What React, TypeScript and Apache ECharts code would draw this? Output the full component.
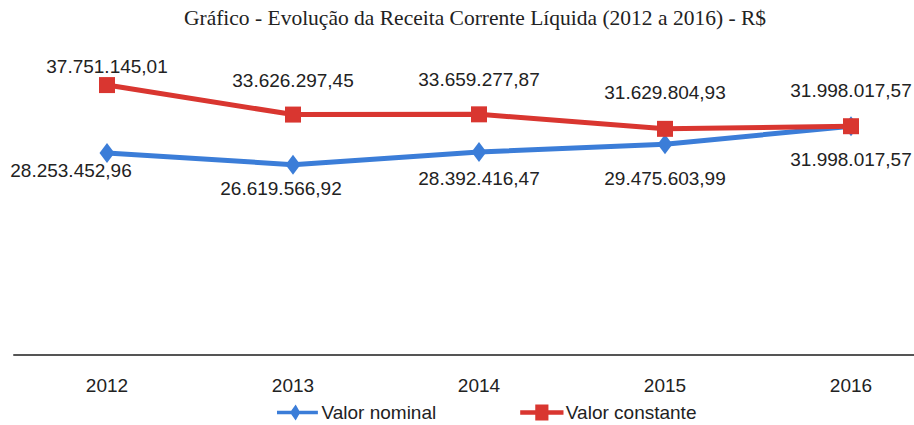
import React, { useEffect, useRef } from "react";
import * as echarts from "echarts";

const categories = ["2012", "2013", "2014", "2015", "2016"];
const nominal = [28253452.96, 26619566.92, 28392416.47, 29475603.99, 31998017.57];
const constante = [37751145.01, 33626297.45, 33659277.87, 31629804.93, 31998017.57];
const title = "Gráfico - Evolução da Receita Corrente Líquida (2012 a 2016) - R$";

const fmt = (v: number) => {
  const [i, d] = v.toFixed(2).split(".");
  return i.replace(/\B(?=(\d{3})+(?!\d))/g, ".") + "," + d;
};

const blueOffsets = [[-36, -6], [-12, 0], [0, 3], [0, 11], [0, 10]];
const redOffsets = [[0, 16], [0, 0], [0, 0], [0, -2], [0, -1]];

export default function App() {
  const ref = useRef<HTMLDivElement>(null);
  useEffect(() => {
    const chart = echarts.init(ref.current!, null, { renderer: "svg" });
    const font = "Liberation Sans";
    chart.setOption({
      animation: false,
      backgroundColor: "#ffffff",
      title: {
        text: title,
        left: 470,
        textAlign: "center",
        top: 2,
        textStyle: { fontFamily: "Liberation Serif", fontSize: 21.5, fontWeight: "normal", color: "#222" },
      },
      legend: {
        bottom: -2,
        left: 272,
        itemGap: 84,
        itemWidth: 46,
        itemHeight: 16,
        textStyle: { fontFamily: font, fontSize: 19, color: "#222", padding: [0, 0, 0, -4] },
        data: [
          { name: "Valor nominal", icon: "path://M0,7 L16,7 L21,0 L25,7 L46,7 L46,11 L25,11 L21,18 L16,11 L0,11 Z" },
          { name: "Valor constante", icon: "path://M0,6 L16,6 L16,0 L30,0 L30,6 L46,6 L46,11 L30,11 L30,17 L16,17 L16,11 L0,11 Z" },
        ],
      },
      grid: { left: 14, right: 0, top: 69, bottom: 70 },
      xAxis: {
        type: "category",
        data: categories,
        boundaryGap: true,
        axisLine: { lineStyle: { color: "#555", width: 2 } },
        axisTick: { show: false },
        axisLabel: { fontFamily: font, fontSize: 19, color: "#222", margin: 21 },
      },
      yAxis: { type: "value", min: 0, max: 40000000, show: false, splitLine: { show: false } },
      series: [
        {
          name: "Valor nominal",
          type: "line",
          data: nominal.map((v, i) => ({
            value: v,
            label: { offset: blueOffsets[i] },
          })),
          color: "#3B7DD8",
          lineStyle: { width: 5, color: "#3B7DD8" },
          symbol: "diamond",
          symbolSize: [15, 20],
          itemStyle: { color: "#3B7DD8" },
          label: {
            show: true,
            position: "bottom",
            distance: 4,
            formatter: (p: any) => fmt(p.value),
            fontFamily: font,
            fontSize: 19,
            color: "#222",
          },
          z: 2,
        },
        {
          name: "Valor constante",
          type: "line",
          data: constante.map((v, i) => ({
            value: v,
            label: { offset: redOffsets[i] },
          })),
          color: "#D93630",
          lineStyle: { width: 5, color: "#D93630" },
          symbol: "rect",
          symbolSize: 16,
          itemStyle: { color: "#D93630" },
          label: {
            show: true,
            position: "top",
            distance: 17,
            formatter: (p: any) => fmt(p.value),
            fontFamily: font,
            fontSize: 19,
            color: "#222",
          },
          z: 3,
        },
      ],
    });
    return () => chart.dispose();
  }, []);
  return (
    <div style={{ position: "absolute", left: 0, top: 0, width: 914, height: 425, overflow: "hidden" }}>
      <div ref={ref} style={{ width: 944, height: 425 }} />
    </div>
  );
}
